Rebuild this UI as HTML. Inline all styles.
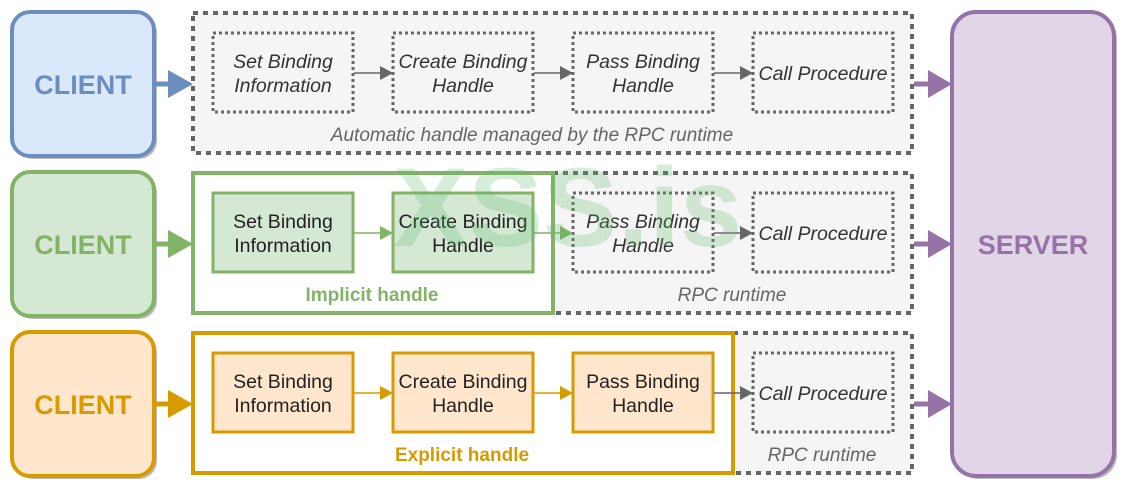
<!DOCTYPE html>
<html><head><meta charset="utf-8"><style>
html,body{margin:0;padding:0;background:#fff;width:1132px;height:494px;overflow:hidden}
svg{display:block;font-family:"Liberation Sans",Arial,sans-serif}
</style></head><body>
<svg width="1132" height="494" viewBox="0 0 1132 494" xmlns="http://www.w3.org/2000/svg">
<defs>
<marker id="ag" markerWidth="13" markerHeight="14" refX="12" refY="7" orient="auto" markerUnits="userSpaceOnUse"><path d="M0,0 L13,7 L0,14 Z" fill="#666"/></marker>
<marker id="agr" markerWidth="13" markerHeight="14" refX="12" refY="7" orient="auto" markerUnits="userSpaceOnUse"><path d="M0,0 L13,7 L0,14 Z" fill="#82b366"/></marker>
<marker id="aor" markerWidth="13" markerHeight="14" refX="12" refY="7" orient="auto" markerUnits="userSpaceOnUse"><path d="M0,0 L13,7 L0,14 Z" fill="#d79b00"/></marker>
</defs>

<g fill="#bbb">
<rect x="15" y="15" width="142" height="144" rx="18"/>
<rect x="15" y="175" width="142" height="144" rx="18"/>
<rect x="15" y="335" width="142" height="144" rx="18"/>
<rect x="955" y="15" width="162" height="464" rx="24"/>
</g>
<rect x="12" y="12" width="142" height="144" rx="18" fill="#dae8fc" stroke="#6c8ebf" stroke-width="4"/>
<rect x="12" y="172" width="142" height="144" rx="18" fill="#d5e8d4" stroke="#82b366" stroke-width="4"/>
<rect x="12" y="332" width="142" height="144" rx="18" fill="#ffe6cc" stroke="#d79b00" stroke-width="4"/>
<g font-size="27" font-weight="bold" text-anchor="middle">
<text x="83" y="94" fill="#6c8ebf">CLIENT</text>
<text x="83" y="254" fill="#82b366">CLIENT</text>
<text x="83" y="414" fill="#d79b00">CLIENT</text>
</g>
<rect x="952" y="12" width="162" height="464" rx="24" fill="#e1d5e7" stroke="#9673a6" stroke-width="4"/>
<text x="1033" y="254" font-size="27" font-weight="bold" fill="#9673a6" text-anchor="middle">SERVER</text>

<g fill="#f5f5f5" stroke="#666" stroke-width="4" stroke-dasharray="5 5">
<rect x="193" y="13" width="719" height="140"/>
<rect x="193" y="173" width="719" height="140"/>
<rect x="193" y="333" width="719" height="140"/>
</g>
<rect x="193" y="173" width="360" height="140" fill="#fff" stroke="#82b366" stroke-width="4"/>
<rect x="193" y="333" width="540" height="140" fill="#fff" stroke="#d79b00" stroke-width="4"/>

<g fill="#f5f5f5" stroke="#666" stroke-width="3" stroke-dasharray="3 3">
<rect x="213" y="33" width="140" height="79"/>
<rect x="393" y="33" width="140" height="79"/>
<rect x="573" y="33" width="140" height="79"/>
<rect x="753" y="33" width="140" height="79"/>
<rect x="573" y="193" width="140" height="79"/>
<rect x="753" y="193" width="140" height="79"/>
<rect x="753" y="353" width="140" height="79"/>
</g>
<g fill="#d5e8d4" stroke="#82b366" stroke-width="3">
<rect x="213" y="193" width="140" height="79"/>
<rect x="393" y="193" width="140" height="79"/>
</g>
<g fill="#ffe6cc" stroke="#d79b00" stroke-width="3">
<rect x="213" y="353" width="140" height="79"/>
<rect x="393" y="353" width="140" height="79"/>
<rect x="573" y="353" width="140" height="79"/>
</g>

<g stroke="#666" stroke-width="1.5">
<line x1="354" y1="73" x2="392" y2="73" marker-end="url(#ag)"/>
<line x1="534" y1="73" x2="572" y2="73" marker-end="url(#ag)"/>
<line x1="714" y1="73" x2="752" y2="73" marker-end="url(#ag)"/>
<line x1="714" y1="233" x2="752" y2="233" marker-end="url(#ag)"/>
<line x1="714" y1="393" x2="752" y2="393" marker-end="url(#ag)"/>
</g>
<g stroke="#82b366" stroke-width="1.5">
<line x1="354" y1="233" x2="392" y2="233" marker-end="url(#agr)"/>
<line x1="534" y1="233" x2="572" y2="233" marker-end="url(#agr)"/>
</g>
<g stroke="#d79b00" stroke-width="1.5">
<line x1="354" y1="393" x2="392" y2="393" marker-end="url(#aor)"/>
<line x1="534" y1="393" x2="572" y2="393" marker-end="url(#aor)"/>
</g>

<g stroke-width="5">
<line x1="156" y1="84" x2="170" y2="84" stroke="#6c8ebf"/>
<line x1="156" y1="244" x2="170" y2="244" stroke="#82b366"/>
<line x1="156" y1="404" x2="170" y2="404" stroke="#d79b00"/>
<line x1="914" y1="84" x2="930" y2="84" stroke="#9673a6"/>
<line x1="914" y1="244" x2="930" y2="244" stroke="#9673a6"/>
<line x1="914" y1="404" x2="930" y2="404" stroke="#9673a6"/>
</g>
<path d="M168,70 L193,84 L168,98Z" fill="#6c8ebf"/>
<path d="M168,230 L193,244 L168,258Z" fill="#82b366"/>
<path d="M168,390 L193,404 L168,418Z" fill="#d79b00"/>
<path d="M928,70 L952,84 L928,98Z" fill="#9673a6"/>
<path d="M928,230 L952,244 L928,258Z" fill="#9673a6"/>
<path d="M928,390 L952,404 L928,418Z" fill="#9673a6"/>

<g font-size="19.5" fill="#333" text-anchor="middle" font-style="italic">
<text x="283" y="68">Set Binding</text><text x="283" y="92">Information</text>
<text x="463" y="68">Create Binding</text><text x="463" y="92">Handle</text>
<text x="643" y="68">Pass Binding</text><text x="643" y="92">Handle</text>
<text x="823" y="80">Call Procedure</text>
<text x="643" y="228">Pass Binding</text><text x="643" y="252">Handle</text>
<text x="823" y="240">Call Procedure</text>
<text x="823" y="400">Call Procedure</text>
</g>
<g font-size="19.5" fill="#222" text-anchor="middle">
<text x="283" y="228">Set Binding</text><text x="283" y="252">Information</text>
<text x="463" y="228">Create Binding</text><text x="463" y="252">Handle</text>
<text x="283" y="388">Set Binding</text><text x="283" y="412">Information</text>
<text x="463" y="388">Create Binding</text><text x="463" y="412">Handle</text>
<text x="643" y="388">Pass Binding</text><text x="643" y="412">Handle</text>
</g>
<g font-size="19" fill="#666" text-anchor="middle" font-style="italic">
<text x="532" y="141">Automatic handle managed by the RPC runtime</text>
<text x="732" y="301">RPC runtime</text>
<text x="822" y="461">RPC runtime</text>
</g>
<text x="372" y="301" font-size="19" font-weight="bold" fill="#82b366" text-anchor="middle">Implicit handle</text>
<text x="462" y="461" font-size="19" font-weight="bold" fill="#d79b00" text-anchor="middle">Explicit handle</text>

<text x="568" y="246" font-size="112" font-weight="bold" fill="#5cb86a" fill-opacity="0.25" text-anchor="middle">XSS.is</text>
</svg>
</body></html>
